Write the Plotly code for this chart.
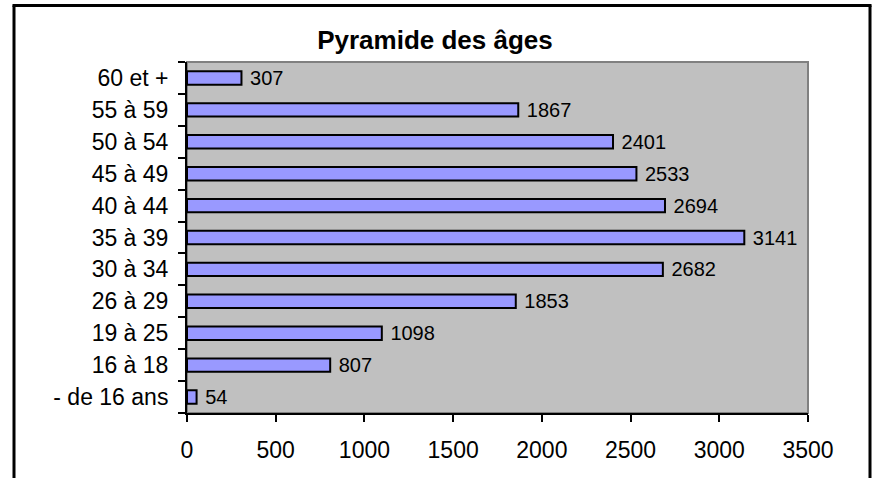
import plotly.graph_objects as go

categories = ["- de 16 ans", "16 à 18", "19 à 25", "26 à 29", "30 à 34", "35 à 39",
              "40 à 44", "45 à 49", "50 à 54", "55 à 59", "60 et +"]
values = [54, 807, 1098, 1853, 2682, 3141, 2694, 2533, 2401, 1867, 307]
x_ticks = [0, 500, 1000, 1500, 2000, 2500, 3000, 3500]

W, H = 877, 478
L, R, T, B = 187, 808, 62, 413
pw, ph = R - L, B - T
FONT = "Liberation Sans, Arial, sans-serif"

def px_x(p):
    return (p - L) / pw

def px_y(p):
    return (B - p) / ph

fig = go.Figure()
fig.add_trace(go.Bar(
    x=values, y=categories, orientation="h",
    marker=dict(color="#9999FF", line=dict(color="black", width=2)),
    text=values, texttemplate="\u00a0%{x}", textposition="outside",
    constraintext="none",
    textfont=dict(family=FONT, size=20, color="black"),
    cliponaxis=False, hoverinfo="skip",
))

border = dict(color="black", width=3)
fig.update_layout(
    width=W, height=H,
    margin=dict(l=L, r=W - R, t=T, b=H - B, pad=0, autoexpand=False),
    paper_bgcolor="white", plot_bgcolor="#C0C0C0",
    bargap=0.58,
    showlegend=False,
    font=dict(family=FONT, size=23, color="black"),
    title=dict(text="<b>Pyramide des âges</b>", x=435 / W, xref="container", xanchor="center",
               y=1 - 40 / H, yref="container", yanchor="middle",
               font=dict(size=26, family=FONT, color="black")),
    xaxis=dict(range=[0, 3500], tickvals=x_ticks, ticks="outside", ticklen=7, tickwidth=2,
               tickcolor="black", showline=True, linecolor="black", linewidth=2,
               showgrid=False, zeroline=False, ticklabelstandoff=8,
               tickfont=dict(size=23), automargin=False),
    yaxis=dict(ticks="outside", tickson="boundaries", ticklen=7, tickwidth=2,
               tickcolor="black", showline=True, linecolor="black", linewidth=2,
               showgrid=False, ticklabelstandoff=12, tickfont=dict(size=23),
               automargin=False),
    shapes=[
        dict(type="rect", xref="paper", yref="paper", x0=0, x1=1, y0=0, y1=1,
             line=dict(color="#808080", width=2), layer="below"),
        dict(type="line", xref="paper", yref="paper",
             x0=px_x(12.5), x1=px_x(871.5), y0=px_y(5.5), y1=px_y(5.5), line=border),
        dict(type="line", xref="paper", yref="paper",
             x0=px_x(14), x1=px_x(14), y0=px_y(5.5), y1=px_y(495), line=border),
        dict(type="line", xref="paper", yref="paper",
             x0=px_x(870), x1=px_x(870), y0=px_y(5.5), y1=px_y(495), line=border),
    ],
)

fig.write_html("out.html", config={"displayModeBar": False},
               post_script="document.body.style.margin='0';")
